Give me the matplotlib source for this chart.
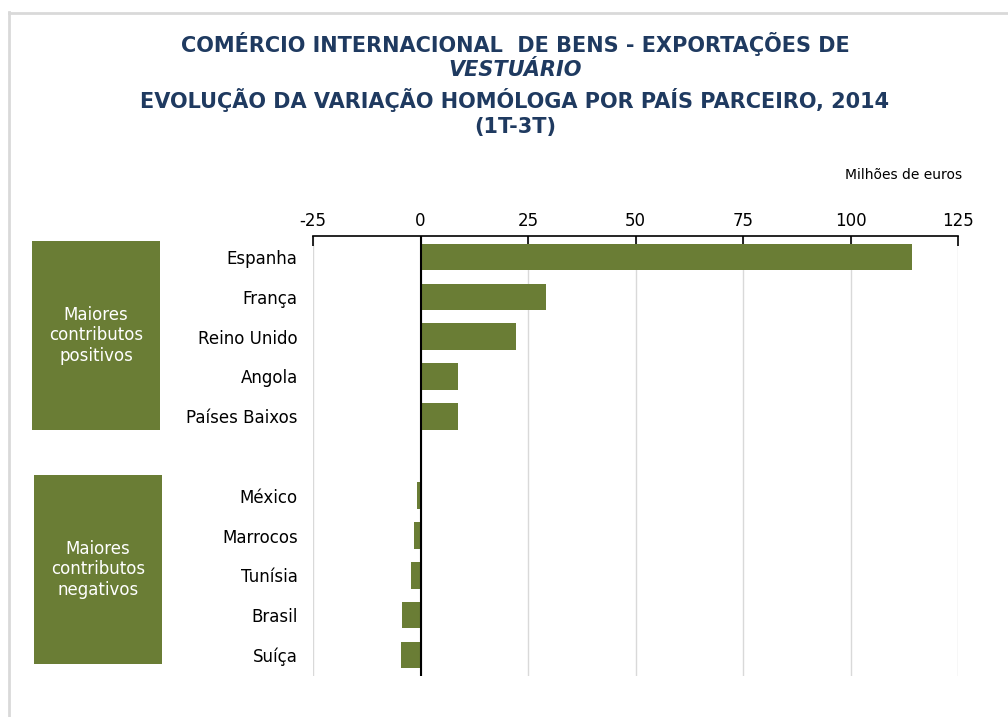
import matplotlib
matplotlib.use("Agg")
import matplotlib.pyplot as plt
from matplotlib.patches import Rectangle
from matplotlib.lines import Line2D

categories = ["Espanha", "França", "Reino Unido", "Angola", "Países Baixos",
              "México", "Marrocos", "Tunísia", "Brasil", "Suíça"]
values = [114.3, 29.3, 22.1, 8.8, 8.8, -0.7, -1.4, -2.2, -4.2, -4.6]
positions = [0, 1, 2, 3, 4, 6, 7, 8, 9, 10]
xticks = [-25, 0, 25, 50, 75, 100, 125]

bar_color = "#6A7D35"
title_color = "#1F3A60"

fig = plt.figure(figsize=(10.08, 7.17), dpi=100)
W, H = 1008, 717

# outer frame (only left and top edges visible)
fig.lines.append(Line2D([8.5 / W, 8.5 / W], [0, 1 - 12 / H], transform=fig.transFigure,
                        color="#D9D9D9", linewidth=2))
fig.lines.append(Line2D([8.5 / W, 1], [1 - 12.5 / H, 1 - 12.5 / H], transform=fig.transFigure,
                        color="#D9D9D9", linewidth=2))

ax = fig.add_axes([313 / W, 1 - 676 / H, (958 - 313) / W, (676 - 236) / H])
ax.barh(positions, values, height=0.67, color=bar_color, zorder=3)
ax.set_xlim(-25, 125)
ax.set_ylim(10.53, -0.53)
ax.set_xticks(xticks)
ax.set_xticklabels([str(t) for t in xticks], fontsize=12)
ax.xaxis.set_ticks_position("top")
ax.xaxis.set_label_position("top")
ax.tick_params(axis="x", direction="in", length=7, width=1.2, pad=4, colors="black")
ax.set_yticks(positions)
ax.set_yticklabels(categories, fontsize=12)
ax.tick_params(axis="y", length=0, pad=11)
for s in ["right", "bottom", "left"]:
    ax.spines[s].set_visible(False)
ax.spines["top"].set_linewidth(1.2)
ax.grid(axis="x", color="#D9D9D9", linewidth=1, zorder=0)
ax.axvline(0, color="black", linewidth=1.5, zorder=4)

# title
fig.text(515 / W, 1 - 44 / H, "COMÉRCIO INTERNACIONAL  DE BENS - EXPORTAÇÕES DE",
         ha="center", va="center", fontsize=15, fontweight="bold", color=title_color)
fig.text(515 / W, 1 - 70 / H, "VESTUÁRIO", ha="center", va="center", fontsize=15,
         fontweight="bold", fontstyle="italic", color=title_color)
fig.text(515 / W, 1 - 100 / H, "EVOLUÇÃO DA VARIAÇÃO HOMÓLOGA POR PAÍS PARCEIRO, 2014",
         ha="center", va="center", fontsize=15, fontweight="bold", color=title_color)
fig.text(515 / W, 1 - 127 / H, "(1T-3T)", ha="center", va="center", fontsize=15,
         fontweight="bold", color=title_color)

fig.text(962 / W, 1 - 175 / H, "Milhões de euros", ha="right", va="center", fontsize=10)

# group boxes
for (x0, y0, x1, y1, label) in [(32, 241, 160, 430, "Maiores\ncontributos\npositivos"),
                                (34, 475, 162, 664, "Maiores\ncontributos\nnegativos")]:
    fig.patches.append(Rectangle((x0 / W, 1 - y1 / H), (x1 - x0) / W, (y1 - y0) / H,
                                 transform=fig.transFigure, facecolor=bar_color, edgecolor="none"))
    fig.text((x0 + x1) / 2 / W, 1 - (y0 + y1) / 2 / H, label, ha="center", va="center",
             fontsize=12, color="white", linespacing=1.15)

fig.savefig("out.png", dpi=100)
